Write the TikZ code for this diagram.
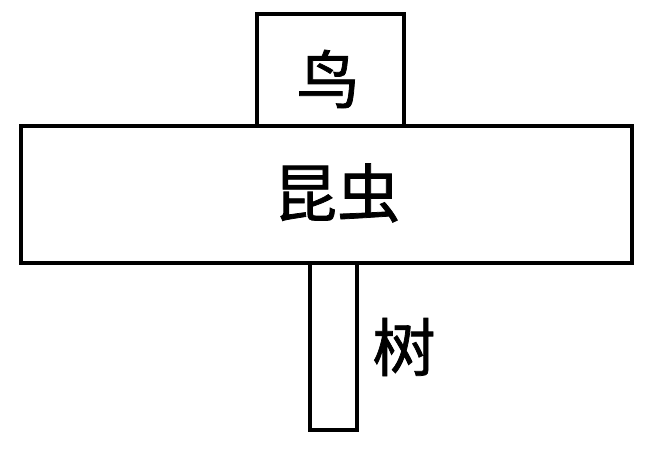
\documentclass[tikz,border=0pt]{standalone}
\usepackage{fontspec}
\newfontfamily\cjk[FakeBold=1.2]{Noto Sans CJK SC}
\begin{document}
\begin{tikzpicture}
\useasboundingbox (0,0) rectangle (6.53,4.68);
\begin{scope}[every node/.style={rectangle,draw,line width=0.9pt,inner sep=0pt}]
	\node[minimum width=1.47cm, minimum height=1.12cm] (bird) at (3.305, 3.98) {};

	\node[minimum width=6.11cm, minimum height=1.37cm] (insect) at (3.265, 2.735) {};

	\node[minimum width=0.47cm, minimum height=1.67cm] (trunk) at (3.335, 1.215) {};
\end{scope}

\begin{scope}[every node/.style={inner sep=0pt,font=\cjk\fontsize{18}{20}\selectfont}]
	\node (birdlabel) at (3.28, 3.89) {鸟};
	\node (insectlabel) at (3.37, 2.75) {昆虫};
	\node (treelabel) at (4.04, 1.21) {树};
\end{scope}
\end{tikzpicture}
\end{document}
